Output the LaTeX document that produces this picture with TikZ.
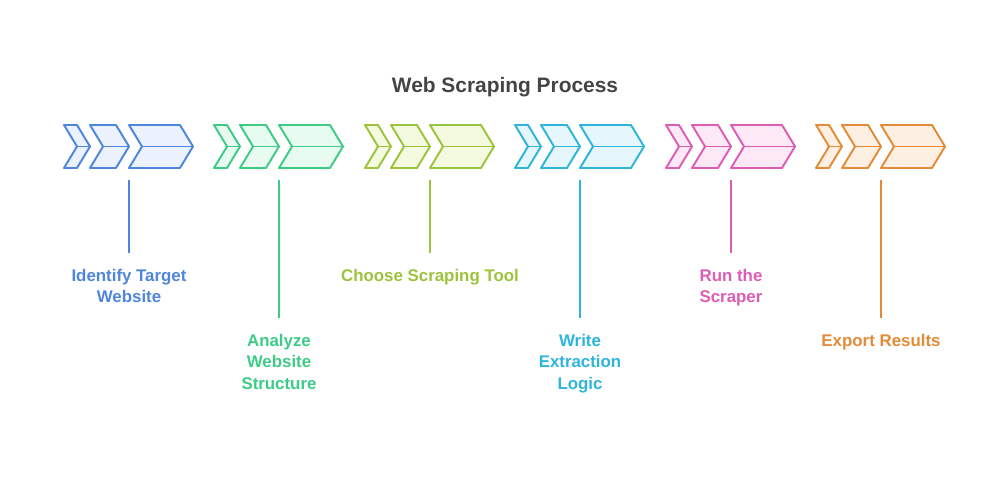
\documentclass[tikz,border=0pt]{standalone}
\usepackage{fontspec}
\setmainfont{Liberation Sans}
\usetikzlibrary{positioning,calc}

\definecolor{titlegray}{HTML}{444444}
\definecolor{cA}{HTML}{4F86DD}\definecolor{cAl}{HTML}{EBF2FD}
\definecolor{cB}{HTML}{3DCB86}\definecolor{cBl}{HTML}{E8FBF1}
\definecolor{cC}{HTML}{9BC43C}\definecolor{cCl}{HTML}{F4FADF}
\definecolor{cD}{HTML}{2DB5DB}\definecolor{cDl}{HTML}{E5F7FC}
\definecolor{cE}{HTML}{DD5DB5}\definecolor{cEl}{HTML}{FDE8F5}
\definecolor{cF}{HTML}{E38B37}\definecolor{cFl}{HTML}{FDF0E3}

\tikzset{
  chev/.style={draw=#1,fill=#1l,line width=1.1pt,line join=round},
  stem/.style={draw=#1,line width=1pt},
  lbl/.style={text=#1,font=\bfseries\fontsize{9.6}{12.2}\selectfont,align=center,inner sep=0pt}
}

\begin{document}
\begin{tikzpicture}[x=0.02cm,y=-0.02cm]
\useasboundingbox (0,0) rectangle (1000,482);
\node[text=titlegray,font=\bfseries\fontsize{11.9}{14}\selectfont] (title) at (505,87) {Web Scraping Process};
\foreach \k/\x/\c/\len/\txt in {0/64/cA/73/{Identify Target\\Website},1/214/cB/138/{Analyze\\Website\\Structure},
  2/365/cC/73/{Choose Scraping Tool},3/515/cD/138/{Write\\Extraction\\Logic},
  4/666/cE/73/{Run the\\Scraper},5/816/cF/138/{Export Results}} {
  \foreach \a/\b in {0/26,26/65,65/129} {
    \draw[chev=\c] (\x+\a,125) -- (\x+\b-13,125) -- (\x+\b,146.5) -- (\x+\b-13,168)
      -- (\x+\a,168) -- (\x+\a+13,146.5) -- cycle;
    \draw[chev=\c] (\x+\a+13,146.5) -- (\x+\b,146.5);
  }
  \coordinate (top\k) at (\x+65,180);
  \coordinate (end\k) at (\x+65,180+\len);
  \draw[stem=\c] (top\k) -- (end\k);
  \node[lbl=\c,below=9pt of end\k] (lbl\k) {\txt};
}
\end{tikzpicture}
\end{document}
